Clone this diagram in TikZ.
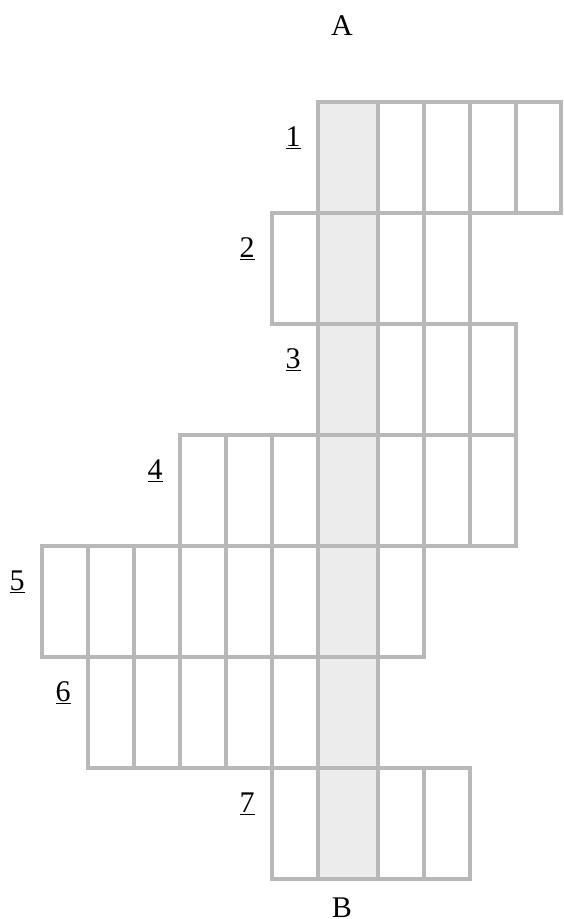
\documentclass[tikz,border=0pt]{standalone}
\usepackage{fontspec}
\setmainfont{Liberation Serif}
\definecolor{gridgray}{HTML}{B8B8B8}
\definecolor{shadecol}{HTML}{ECECEC}
\begin{document}
\begin{tikzpicture}[x=1pt,y=-1pt,
  gridline/.style={draw=gridgray,line width=3.2pt},
  numlabel/.style={font=\fontsize{30}{32}\selectfont,anchor=base,inner sep=0pt},
  endlabel/.style={font=\fontsize{30}{32}\selectfont,anchor=base,inner sep=0pt}]
\useasboundingbox (0,0) rectangle (563,919);
\def\xs{{42,88,134,180,226,272,318,378,424,470,516,561}}
% shaded column
\fill[fill=shadecol] (318,102) rectangle (378,879);
\foreach \r/\s/\e in {1/6/11,2/5/9,3/6/10,4/3/10,5/0/8,6/1/7,7/5/9}{
  \pgfmathsetmacro{\top}{102+111*(\r-1)}
  \pgfmathsetmacro{\bot}{\top+111}
  \pgfmathsetmacro{\xa}{\xs[\s]}
  \pgfmathsetmacro{\xb}{\xs[\e]}
  \draw[gridline,line cap=rect] (\xa,\top) -- (\xb,\top);
  \draw[gridline,line cap=rect] (\xa,\bot) -- (\xb,\bot);
  \foreach \c in {\s,...,\e}{
    \pgfmathsetmacro{\xc}{\xs[\c]}
    \draw[gridline] (\xc,\top) -- (\xc,\bot);
  }
  \node[numlabel] (n\r) at (\xa-25,\top+44.5) {\underline{\r}};
}
\node[endlabel] (A) at (342,35) {A};
\node[endlabel] (B) at (342,917) {B};
\end{tikzpicture}
\end{document}
